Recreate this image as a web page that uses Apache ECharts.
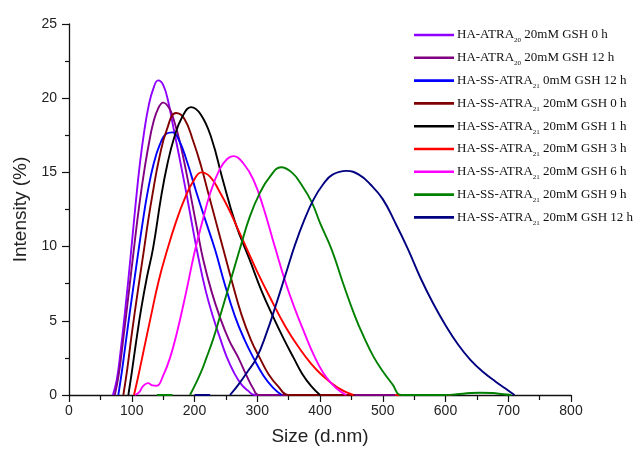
<!DOCTYPE html>
<html>
<head>
<meta charset="utf-8">
<script src="https://cdn.jsdelivr.net/npm/echarts@6/dist/echarts.min.js"></script>
<style>html,body{margin:0;padding:0;background:#fff;}#c{width:640px;height:452px;}</style>
</head>
<body>
<div id="c"></div>
<script>
var xTicks = [0, 100, 200, 300, 400, 500, 600, 700, 800];
var yTicks = [0, 5, 10, 15, 20, 25];

var names = [
  'HA-ATRA{sub|20} 20mM GSH 0 h',
  'HA-ATRA{sub|20} 20mM GSH 12 h',
  'HA-SS-ATRA{sub|21} 0mM GSH 12 h',
  'HA-SS-ATRA{sub|21} 20mM GSH 0 h',
  'HA-SS-ATRA{sub|21} 20mM GSH 1 h',
  'HA-SS-ATRA{sub|21} 20mM GSH 3 h',
  'HA-SS-ATRA{sub|21} 20mM GSH 6 h',
  'HA-SS-ATRA{sub|21} 20mM GSH 9 h',
  'HA-SS-ATRA{sub|21} 20mM GSH 12 h'
];
var colors = ['#8f00ff', '#800080', '#0000ff', '#800000', '#000000', '#ff0000', '#ff00ff', '#008000', '#000080'];

var haAtra0h = [[70,0],[76,1],[81,2.5],[90,5.9],[99,9.7],[106,12.8],[113,15.6],[120,17.8],[127,19.5],[134,20.6],[142,21.2],[150,20.9],[158,19.8],[166,18.1],[176,16],[187,13.6],[197,11.3],[206,9.3],[218,7],[230,5.2],[241,3.8],[251,2.6],[263,1.5],[275,0.7],[285,0.3],[296,0],[340,0]];
var haAtra12h = [[73,0],[79,1.3],[86,3.6],[95,6.8],[103.6,9.9],[112,12.8],[121,15.4],[128,17.1],[134,18.3],[142,19.3],[150,19.7],[160,19.3],[168,18.4],[177,17],[186,15.2],[195.5,13.1],[205,11],[214,9.1],[227,7],[240,5.3],[255,3.7],[270,2.5],[283,1.3],[294,0.4],[302,0],[520,0]];
var ss0mM12h = [[78.6,0],[84,1.5],[90,3.4],[97,5.6],[104,7.7],[111,9.8],[118,11.8],[125,13.6],[135,15.6],[145,16.9],[155,17.6],[165,17.7],[176,17.1],[187.5,15.8],[203.5,13.6],[218,11.7],[232.7,9.8],[248,7.5],[264.5,5.3],[280,3.7],[294,2.5],[310,1.3],[325,0.5],[339,0]];
var ss20mM0h = [[86.6,0],[93,1.8],[100,4.1],[110,7.1],[119.5,9.8],[126,11.7],[133,13.5],[144,16],[156,17.9],[170.5,19],[184,18.6],[198,17.1],[210,15.5],[222,13.6],[234,11.7],[246,9.8],[260,7.6],[275,5.4],[290,3.7],[304,2.5],[318,1.4],[333,0.6],[350,0],[455,0]];
var ss20mM1h = [[94.6,0],[100,1.5],[107,3.6],[115,5.8],[124,7.9],[134,9.9],[147,13.4],[157,15.6],[168,17.4],[180,18.7],[194.4,19.4],[210,18.9],[227,17.3],[245,14.5],[265,11.6],[288,9.1],[307,7],[325,5.3],[342,3.8],[358,2.5],[372,1.4],[386,0.6],[400,0]];
var ss20mM3h = [[103.6,0],[110,1.2],[118,2.8],[130,5.2],[143,7.7],[156,9.7],[170,11.6],[185,13.3],[198,14.4],[211,15],[225,14.7],[240,13.7],[255,12.5],[270,11.1],[285,9.7],[300,8.3],[320,6.6],[345,4.6],[368,3.1],[386,2.1],[403,1.35],[428,0.5],[453,0],[454,'-'],[520,0],[610,0]];
var ss20mM6h = [[105,0],[112,0.2],[118,0.6],[126,0.8],[133,0.65],[140,0.62],[150,1.3],[161,2.5],[172,4.2],[186,6.8],[200,9.6],[212,11.6],[225,13.6],[240,15.2],[252,15.9],[262,16.1],[278,15.6],[294,14.5],[310,12.6],[328,10],[345,7.6],[360,5.8],[375,4.2],[390,2.7],[405,1.5],[420,0.7],[432,0.25],[442,0]];
var ss20mM9h = [[140,0],[165,0],[166,'-'],[192.8,0],[200,0.6],[210,1.5],[219,2.5],[230,3.8],[240,5.2],[256,7.5],[272,9.8],[288,12],[304,13.6],[320,14.7],[338,15.35],[355,15],[370,14.2],[386.8,13],[400,11.6],[418.6,9.8],[437,7.5],[455.8,5.3],[470,3.9],[485,2.6],[500,1.6],[515,0.75],[530,0],[600,0],[618,0.05],[640,0.13],[655,0.15],[675,0.13],[692,0.05],[705,0]];
var ss20mM12h = [[200,0],[225,0],[226,'-'],[256.6,0],[270,0.7],[285,1.6],[299,2.5],[315,4.2],[330,6.1],[345,8.1],[360,10.1],[375,11.8],[390,13.2],[405,14.2],[420,14.85],[442.5,15.1],[462,14.85],[480,14.2],[500,13.2],[520,11.6],[540,9.85],[560,7.9],[580,6.2],[600,4.7],[620,3.4],[640,2.35],[660,1.55],[680,0.9],[695,0.45],[710,0]];

var allData = [haAtra0h, haAtra12h, ss0mM12h, ss20mM0h, ss20mM1h, ss20mM3h, ss20mM6h, ss20mM9h, ss20mM12h];

var series = allData.map(function (d, i) {
  return {
    name: names[i],
    type: 'line',
    data: d,
    smooth: 0.45,
    symbol: 'none',
    connectNulls: false,
    lineStyle: { color: colors[i], width: 1.9 },
    itemStyle: { color: colors[i] },
    clip: true
  };
});

var chart = echarts.init(document.getElementById('c'), null, { renderer: 'canvas' });
chart.setOption({
  animation: false,
  backgroundColor: '#ffffff',
  grid: { left: 69, right: 69, top: 24, bottom: 57, containLabel: false },
  legend: {
    orient: 'vertical',
    left: 409,
    top: 21,
    icon: 'rect',
    itemWidth: 40,
    itemHeight: 2.6,
    itemGap: 4.8,
    data: names,
    textStyle: {
      fontFamily: '"Liberation Serif", "Times New Roman", serif',
      fontSize: 13,
      color: '#111',
      lineHeight: 18,
      padding: [0, 0, 0, -2],
      rich: {
        sub: { fontFamily: '"Liberation Serif", serif', fontSize: 7, color: '#111', verticalAlign: 'bottom', lineHeight: 9 }
      }
    }
  },
  xAxis: {
    type: 'value',
    min: 0, max: 800, interval: 100,
    name: 'Size (d.nm)',
    nameLocation: 'middle',
    nameGap: 32,
    nameTextStyle: { fontFamily: '"Liberation Sans", Arial, sans-serif', fontSize: 19, color: '#222' },
    axisLine: { show: true, lineStyle: { color: '#111', width: 1.3 } },
    axisTick: { show: true, inside: false, length: 7, lineStyle: { color: '#111', width: 1.2 } },
    minorTick: { show: true, splitNumber: 2, length: 5, lineStyle: { color: '#111', width: 1.2 } },
    splitLine: { show: false },
    axisLabel: { fontFamily: '"Liberation Sans", Arial, sans-serif', fontSize: 14, color: '#222', margin: 9,
      formatter: function (v) { return xTicks.indexOf(v) >= 0 ? String(v) : ''; } }
  },
  yAxis: {
    type: 'value',
    min: 0, max: 25, interval: 5,
    name: 'Intensity (%)',
    nameLocation: 'middle',
    nameGap: 38,
    nameTextStyle: { fontFamily: '"Liberation Sans", Arial, sans-serif', fontSize: 19, color: '#222' },
    axisLine: { show: true, lineStyle: { color: '#111', width: 1.3 } },
    axisTick: { show: true, inside: false, length: 7, lineStyle: { color: '#111', width: 1.2 } },
    minorTick: { show: true, splitNumber: 2, length: 4, lineStyle: { color: '#111', width: 1.2 } },
    splitLine: { show: false },
    axisLabel: { fontFamily: '"Liberation Sans", Arial, sans-serif', fontSize: 14, color: '#222', margin: 12,
      formatter: function (v) { return yTicks.indexOf(v) >= 0 ? String(v) : ''; } }
  },
  series: series
});
</script>
</body>
</html>
